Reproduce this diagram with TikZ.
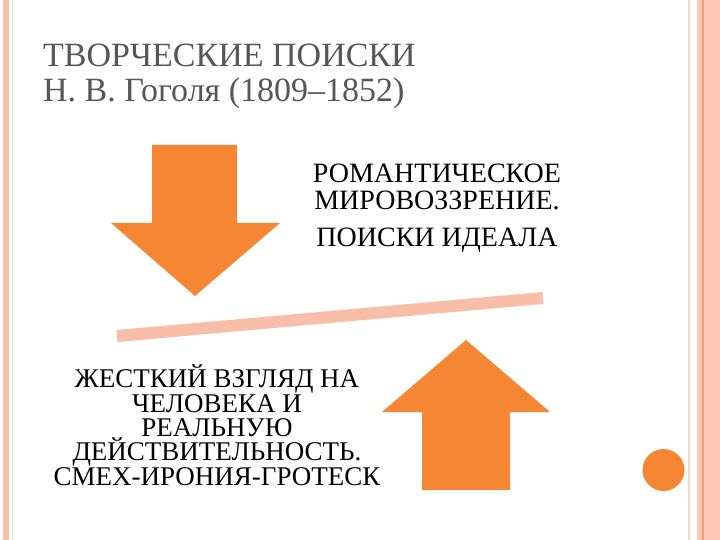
\documentclass[tikz,border=0pt]{standalone}
\usepackage{fontspec}
\setmainfont{Liberation Serif}
\definecolor{gogolorange}{RGB}{245,135,52}
\definecolor{gogolpink}{RGB}{249,190,168}
\definecolor{gogolband}{RGB}{252,200,180}
\definecolor{gogolline}{RGB}{240,160,130}
\definecolor{gogolbeige}{RGB}{242,218,200}
\definecolor{gogolgray}{RGB}{85,85,90}
\begin{document}
\begin{tikzpicture}[x=1pt,y=-1pt,
		heading/.style={text=gogolgray,inner sep=0pt,align=left,font=\fontsize{34}{35}\selectfont},
		caption/.style={text=black,inner sep=0pt,align=center,font=\fontsize{27}{24.3}\selectfont},
		bigarrow/.style={fill=gogolorange,draw=none}]
		\useasboundingbox (0,0) rectangle (720,540);
		% page frame
		\fill[gogolpink] (3,0) rectangle (9,540);
		\draw[gogolbeige,line width=.8pt] (12,0) -- (12,540);
		\draw[gogolbeige,line width=1.2pt] (689,0) -- (689,540);
		\fill[gogolband] (697,0) rectangle (720,540);
		\draw[gogolline,line width=1.5pt] (703,0) -- (703,540);
		\fill[gogolorange] (663.5,470) circle (21);
		% title
		\node[heading,anchor=base west] (title) at (43,102) {ТВОРЧЕСКИЕ ПОИСКИ\\Н. В. Гоголя (1809--1852)};
		% arrows and the bar
		\fill[bigarrow] (152,145) -- (237,145) -- (237,223) -- (280,223) -- (195,296) -- (111,223) -- (152,223) -- cycle;
		\fill[bigarrow] (422,490) -- (510,490) -- (510,412) -- (550,412) -- (466,340) -- (382,412) -- (422,412) -- cycle;
		\draw[gogolpink,line width=12pt] (117,336) -- (543,298);
		% texts
		\node[caption,anchor=base,font=\fontsize{28}{27}\selectfont] (romantic) at (437,246) {РОМАНТИЧЕСКОЕ\\МИРОВОЗЗРЕНИЕ.\\[9pt]ПОИСКИ ИДЕАЛА};
		\node[caption,anchor=base] (realism) at (217,485) {ЖЕСТКИЙ ВЗГЛЯД НА\\ЧЕЛОВЕКА И\\РЕАЛЬНУЮ\\ДЕЙСТВИТЕЛЬНОСТЬ.\\СМЕХ-ИРОНИЯ-ГРОТЕСК};
	\end{tikzpicture}
\end{document}
